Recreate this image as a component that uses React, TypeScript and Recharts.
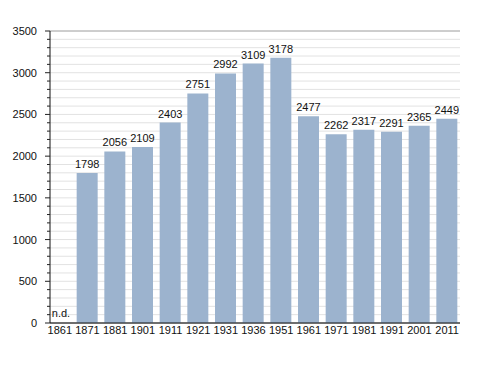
import { Bar, BarChart, CartesianGrid, LabelList, ReferenceDot, XAxis, YAxis } from "recharts";

// Abitanti censiti (1861 non disponibile)
const anni = ["1861", "1871", "1881", "1901", "1911", "1921", "1931", "1936", "1951", "1961", "1971", "1981", "1991", "2001", "2011"];
const abitanti: (number | null)[] = [null, 1798, 2056, 2109, 2403, 2751, 2992, 3109, 3178, 2477, 2262, 2317, 2291, 2365, 2449];
const tacchePrincipali = [0, 500, 1000, 1500, 2000, 2500, 3000, 3500];
const tacche = Array.from({ length: 36 }, (_, i) => i * 100);

const data = anni.map((anno, i) => ({ anno, valore: abitanti[i] }));
const annoNd = anni[abitanti.indexOf(null)];

const FONT = "'Liberation Sans', Arial, sans-serif";
const FS = 11;

function YTick({ x, y, payload }: any) {
  const major = payload.value % 500 === 0;
  return (
    <g>
      <line x1={x - (major ? 5 : 3)} x2={x} y1={y} y2={y} stroke="#222" strokeWidth={1} />
      {major && (
        <text x={x - 13} y={y} dy={4} textAnchor="end" fontSize={FS} fontFamily={FONT} fill="#111">
          {payload.value}
        </text>
      )}
    </g>
  );
}

function Etichetta({ x, y, width, value }: any) {
  return (
    <text x={x + width / 2} y={y - 5} textAnchor="middle" fontSize={FS} fontFamily={FONT} fill="#111">
      {value}
    </text>
  );
}

function NonDisponibile({ viewBox }: any) {
  return (
    <text x={viewBox.x - 8} y={viewBox.y - 6} fontSize={FS} fontFamily={FONT} fill="#111">
      n.d.
    </text>
  );
}

export default function App() {
  return (
    <div style={{ position: "absolute", left: 0, top: 0, width: 488, height: 373, background: "#fff" }}>
      <BarChart width={488} height={373} data={data} margin={{ top: 31, right: 28, bottom: 30, left: 0 }}>
        <CartesianGrid vertical={false} stroke="#e2e2e2" />
        <CartesianGrid vertical={false} stroke="#aaaaaa" yAxisId="major" />
        <XAxis
          dataKey="anno"
          height={20}
          padding={{ left: -4, right: -1 }}
          tickLine={false}
          tickSize={3}
          tickMargin={0}
          axisLine={{ stroke: "#111" }}
          tick={{ fontSize: FS, fontFamily: FONT, fill: "#111" }}
          interval={0}
        />
        <YAxis
          domain={[0, 3500]}
          ticks={tacche}
          interval={0}
          width={50}
          tickSize={0}
          tickMargin={0}
          tickLine={false}
          axisLine={{ stroke: "#111" }}
          tick={<YTick />}
        />
        <YAxis yAxisId="major" hide domain={[0, 3500]} ticks={tacchePrincipali} interval={0} />
        <Bar dataKey="valore" fill="#9cb3ce" barSize={21} isAnimationActive={false}>
          <LabelList dataKey="valore" content={<Etichetta />} />
        </Bar>
        <ReferenceDot x={annoNd} y={0} r={0} stroke="none" fill="none" label={<NonDisponibile />} />
      </BarChart>
    </div>
  );
}
